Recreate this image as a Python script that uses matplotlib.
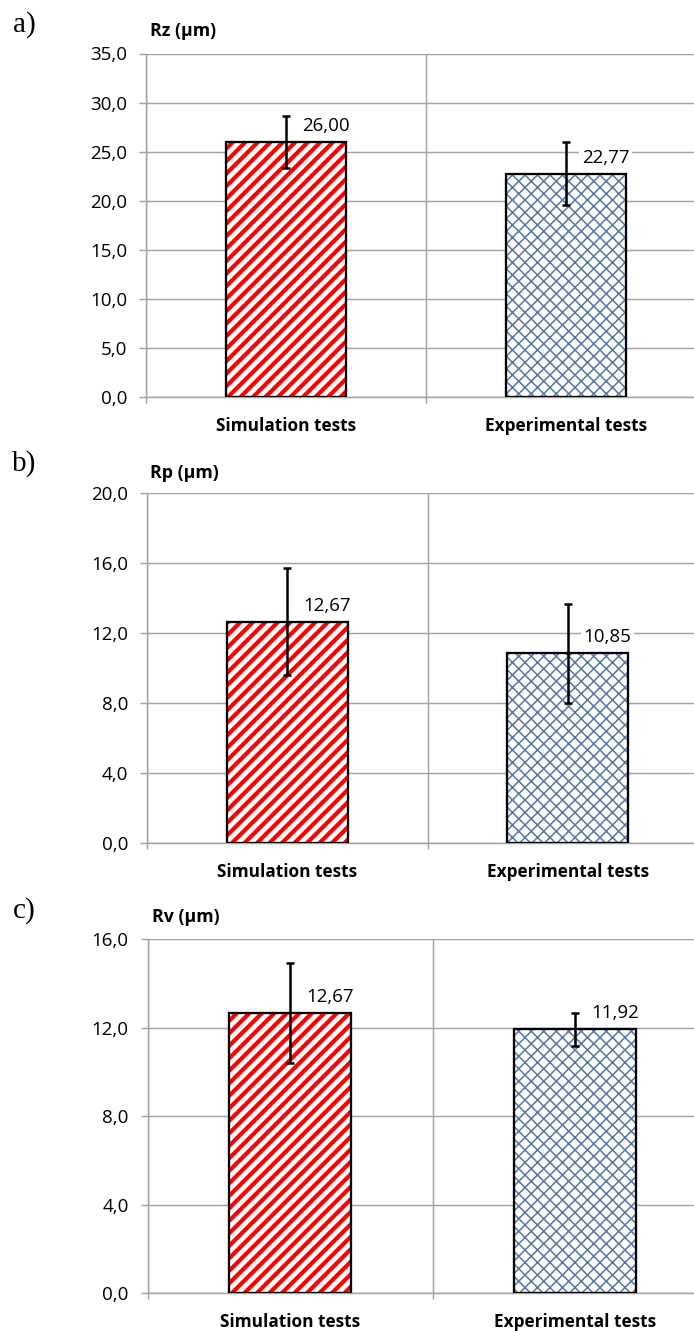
import matplotlib
matplotlib.use("Agg")
import matplotlib.pyplot as plt
from matplotlib.ticker import FixedLocator, FuncFormatter

# ---- data ----
categories = ["Simulation tests", "Experimental tests"]
panel_letters = ["a)", "b)", "c)"]
panel_titles = ["Rz (µm)", "Rp (µm)", "Rv (µm)"]
rz_values = [26.00, 22.77]
rz_errors = [2.67, 3.20]
rp_values = [12.67, 10.85]
rp_errors = [3.04, 2.83]
rv_values = [12.67, 11.92]
rv_errors = [2.28, 0.75]
y_maxes = [35, 20, 16]
y_steps = [5, 4, 4]

values_list = [rz_values, rp_values, rv_values]
errors_list = [rz_errors, rp_errors, rv_errors]

W, H = 694, 1331
DPI = 150
plt.rcParams['font.family'] = ['Open Sans', 'DejaVu Sans']

fig = plt.figure(figsize=(W / DPI, H / DPI), dpi=DPI)

def px2pt(p):
    return p * 72.0 / DPI

# axes boxes in pixels: left, right, top, bottom
boxes = [
    (146, 706, 53.5, 397),
    (147, 708, 493.3, 843.3),
    (147.7, 717.7, 939.3, 1293),
]
letter_pos = [(13, 25), (12, 464), (13, 911)]
title_pos = [(150, 31), (150, 473), (151.7, 917)]

grid_color = '#a3a3a3'
hatch_colors = ['#ff0000', '#5a78a8']
hatches = ['////', 'xxxx']
hatch_lws = [2.0, 0.75]
bar_width = 0.43

for i in range(3):
    l, r, t, b = boxes[i]
    ax = fig.add_axes([l / W, 1 - b / H, (r - l) / W, (b - t) / H])
    vals = values_list[i]
    errs = errors_list[i]
    x = list(range(len(categories)))

    for j in range(len(categories)):
        plt.rcParams['hatch.linewidth'] = hatch_lws[j]
        bars = ax.bar(x[j], vals[j], width=bar_width, color='white',
                      edgecolor=hatch_colors[j], hatch=hatches[j],
                      linewidth=0, zorder=2)
        for p in bars:
            try:
                p.set_hatch_linewidth(hatch_lws[j])
            except Exception:
                pass
    ax.bar(x, vals, width=bar_width, fill=False, edgecolor='black',
           linewidth=1.1, zorder=3)
    ax.errorbar(x, vals, yerr=errs, fmt='none', ecolor='black',
                elinewidth=1.2, capsize=1.9, capthick=1.2, zorder=4)

    for j in range(len(categories)):
        ax.annotate(f"{vals[j]:.2f}".replace('.', ','), xy=(x[j], vals[j]),
                    xytext=(px2pt(16), px2pt(16)), textcoords='offset points',
                    ha='left', va='center', fontsize=9, color='black',
                    bbox=dict(boxstyle='square,pad=0.15', fc='white', ec='none'),
                    zorder=5)

    ax.set_xlim(-0.5, 1.5)
    ax.set_ylim(0, y_maxes[i])
    ticks = list(range(0, y_maxes[i] + 1, y_steps[i]))
    ax.yaxis.set_major_locator(FixedLocator(ticks))
    ax.yaxis.set_major_formatter(FuncFormatter(lambda v, pos: f"{v:.1f}".replace('.', ',')))
    ax.set_xticks(x)
    ax.set_xticklabels(categories, fontweight='bold', fontsize=8.3)
    ax.xaxis.set_minor_locator(FixedLocator([-0.5, 0.5, 1.5]))

    ax.tick_params(axis='x', which='major', length=0, pad=9.5)
    ax.tick_params(axis='x', which='minor', length=px2pt(6), width=0.7, color=grid_color, direction='out')
    ax.tick_params(axis='y', which='major', length=px2pt(7), width=0.7, color=grid_color,
                   pad=px2pt(12), labelsize=9, direction='out')

    ax.grid(True, axis='y', which='major', color=grid_color, linewidth=0.7, zorder=0)
    ax.grid(True, axis='x', which='minor', color=grid_color, linewidth=0.7, zorder=0)
    ax.grid(False, axis='x', which='major')
    ax.set_axisbelow(True)
    for s in ['top', 'right']:
        ax.spines[s].set_visible(False)
    for s in ['left', 'bottom']:
        ax.spines[s].set_color(grid_color)
        ax.spines[s].set_linewidth(0.7)
    ax.set_facecolor('white')

    fig.text(letter_pos[i][0] / W, 1 - letter_pos[i][1] / H, panel_letters[i],
             family='Liberation Serif', fontsize=14, ha='left', va='center')
    fig.text(title_pos[i][0] / W, 1 - title_pos[i][1] / H, panel_titles[i],
             fontsize=8.5, fontweight='bold', ha='left', va='center')

fig.savefig('out.png', dpi=DPI, facecolor='white')
